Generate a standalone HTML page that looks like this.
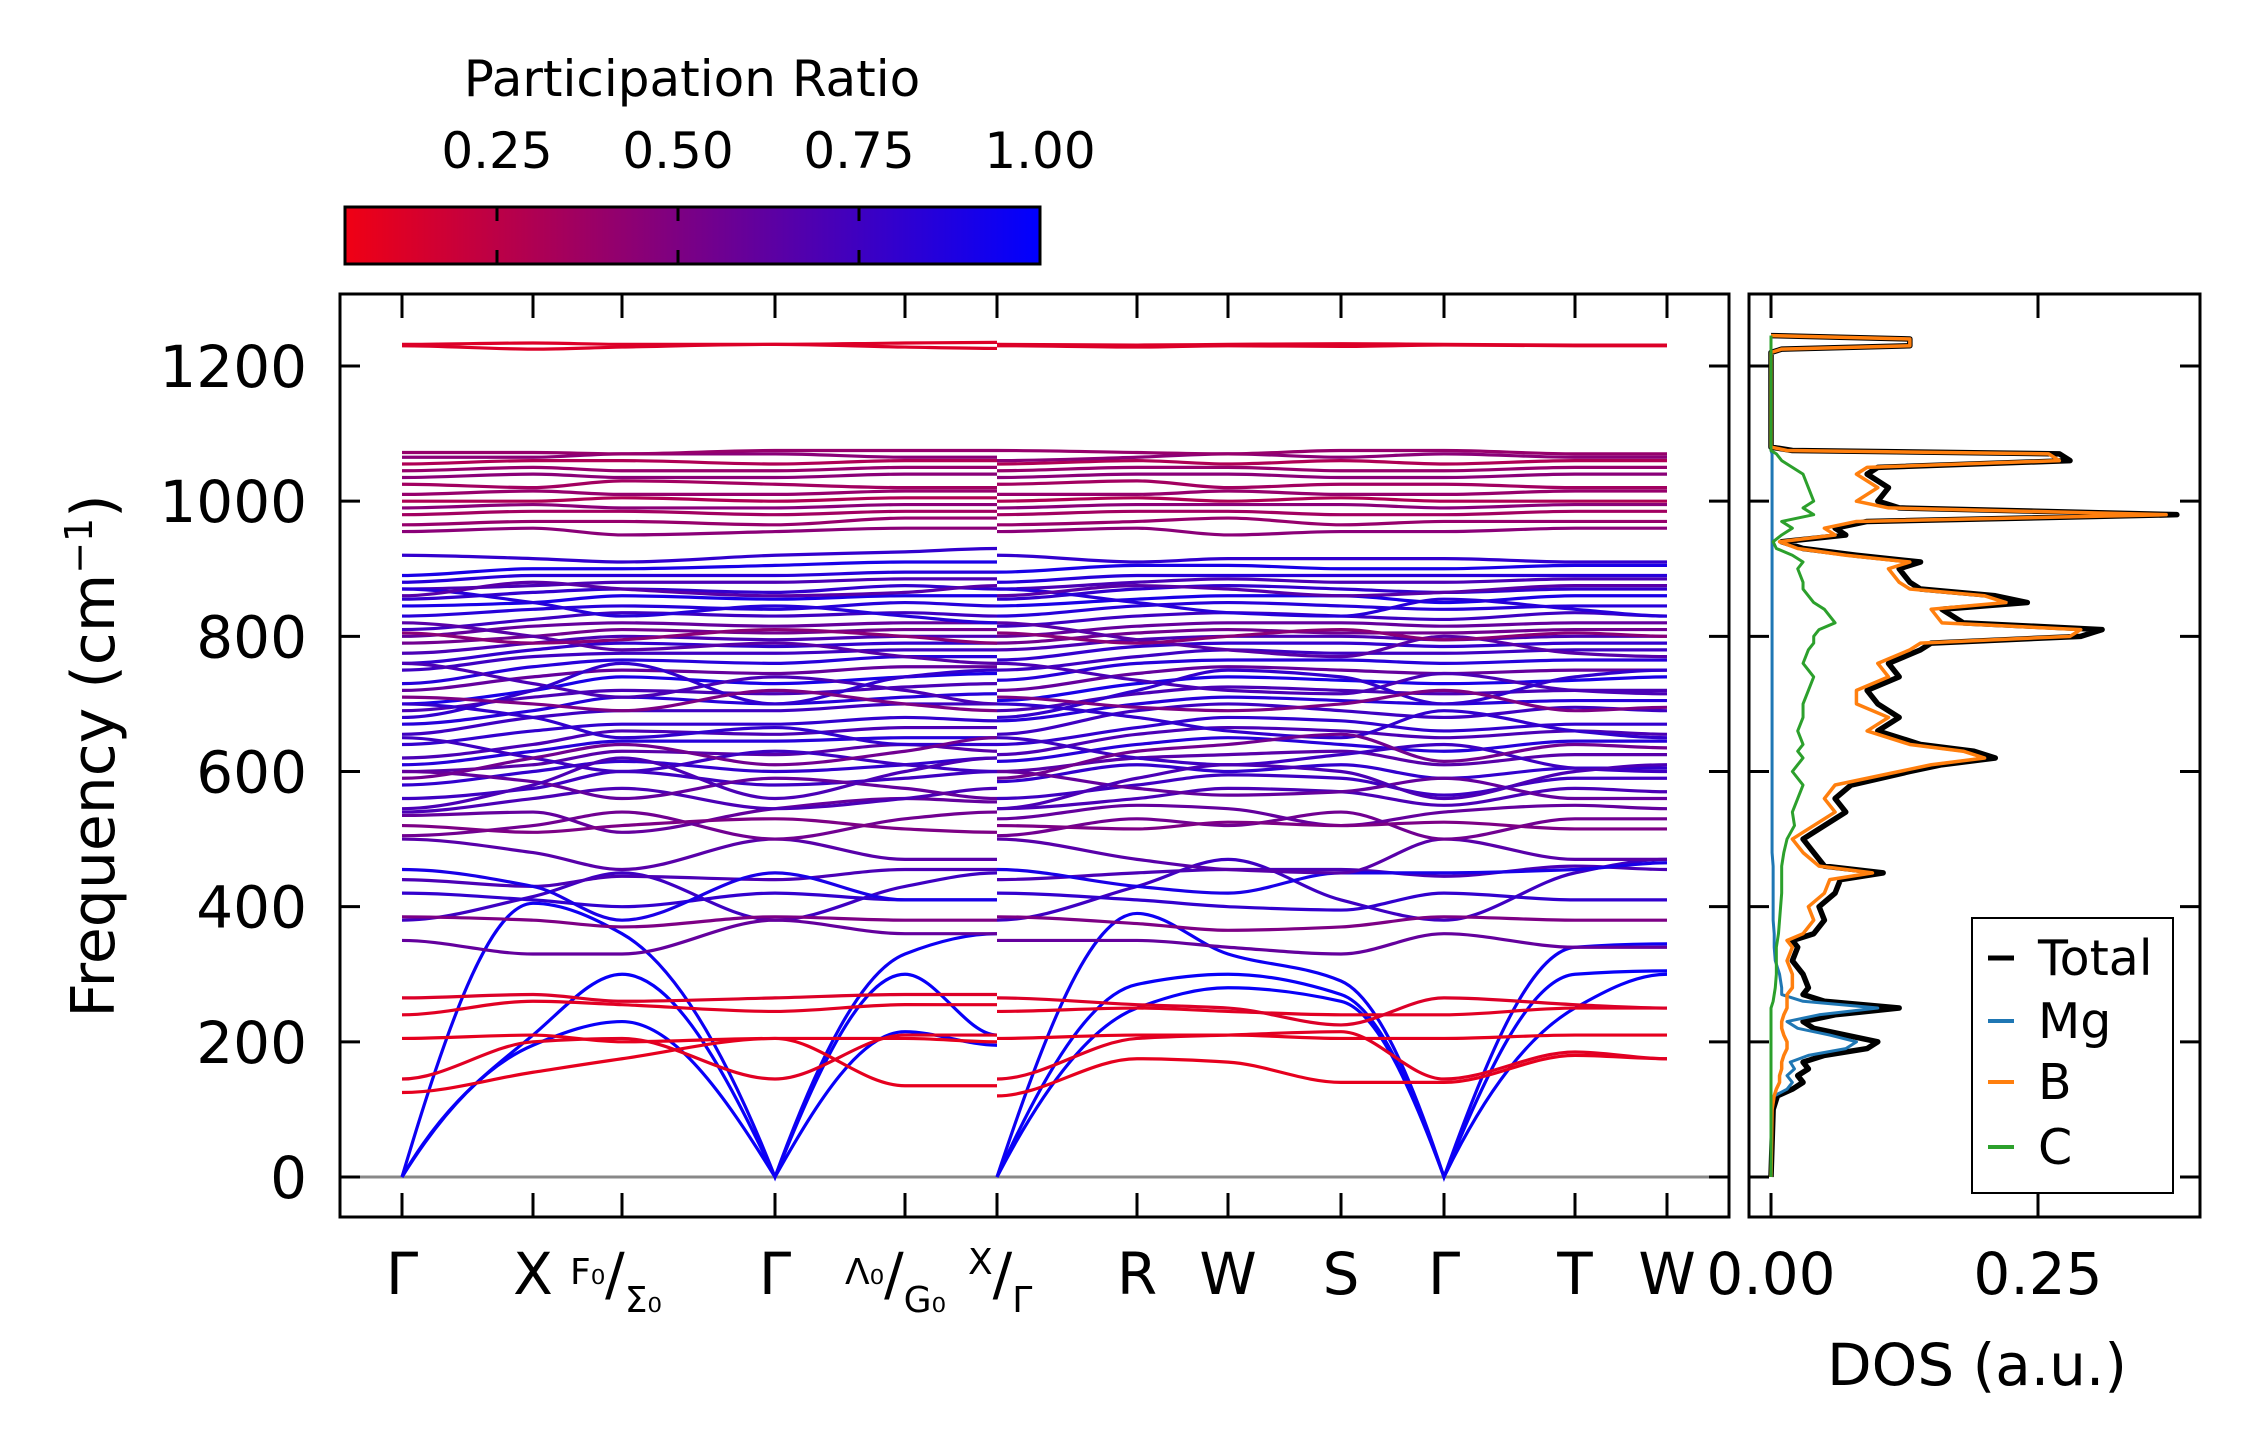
<!DOCTYPE html>
<html><head><meta charset="utf-8"><style>
body{margin:0;background:#fff}
svg{display:block;font-family:"DejaVu Sans","Liberation Sans",sans-serif}
</style></head><body>
<svg id="chart" width="2259" height="1455" viewBox="0 0 2259 1455">
<defs><linearGradient id="cmap" x1="0" x2="1" y1="0" y2="0"><stop offset="0" stop-color="#f00014"/><stop offset="0.5" stop-color="#780087"/><stop offset="1" stop-color="#0000ff"/></linearGradient></defs>
<rect x="0" y="0" width="2259" height="1455" fill="#fff"/>
<g>
<text x="692" y="96" font-size="50" text-anchor="middle">Participation Ratio</text>
<rect x="345" y="207" width="695" height="57" fill="url(#cmap)" stroke="#000" stroke-width="3"/>
</g>
<g id="cbticks"></g>
<g id="bands"></g>
<g id="dos"></g>
<g id="axes"></g>
<g font-size="58">
<text x="402" y="1294" text-anchor="middle">Γ</text>
<text x="533" y="1294" text-anchor="middle">X</text>
<text x="570" y="1284" font-size="36">F₀<tspan font-size="58" dy="10">/</tspan><tspan font-size="36" dy="18">Σ₀</tspan></text>
<text x="775" y="1294" text-anchor="middle">Γ</text>
<text x="845" y="1284" font-size="36">Λ₀<tspan font-size="58" dy="10">/</tspan><tspan font-size="36" dy="18">G₀</tspan></text>
<text x="968" y="1274" font-size="36">X<tspan font-size="58" dy="20">/</tspan><tspan font-size="36" dy="18">Γ</tspan></text>
<text x="1137" y="1294" text-anchor="middle">R</text>
<text x="1228" y="1294" text-anchor="middle">W</text>
<text x="1341" y="1294" text-anchor="middle">S</text>
<text x="1444" y="1294" text-anchor="middle">Γ</text>
<text x="1575" y="1294" text-anchor="middle">T</text>
<text x="1667" y="1294" text-anchor="middle">W</text>
</g>
<text x="1977" y="1385" font-size="58" text-anchor="middle">DOS (a.u.)</text>
<text transform="translate(114,756) rotate(-90)" font-size="60" text-anchor="middle">Frequency (cm<tspan font-size="38" dy="-22">−1</tspan><tspan dy="22">)</tspan></text>
<g>
<rect x="1972" y="918" width="201" height="275" fill="#fff" stroke="#000" stroke-width="2"/>
<line x1="1988" x2="2014" y1="958" y2="958" stroke="#000" stroke-width="5"/>
<text x="2038" y="975" font-size="49">Total</text>
<line x1="1988" x2="2014" y1="1021" y2="1021" stroke="#1f77b4" stroke-width="4"/>
<text x="2038" y="1038" font-size="49">Mg</text>
<line x1="1988" x2="2014" y1="1082" y2="1082" stroke="#ff7f0e" stroke-width="4"/>
<text x="2038" y="1099" font-size="49">B</text>
<line x1="1988" x2="2014" y1="1147" y2="1147" stroke="#2ca02c" stroke-width="4"/>
<text x="2038" y="1164" font-size="49">C</text>
</g>
</svg>
<script>
const NS="http://www.w3.org/2000/svg";
const kTicks=[402,533,622,775,905,997,997,1137,1228,1341,1444,1575,1667];
const kLabelsPos=[402,533,622,775,905,997,1137,1228,1341,1444,1575,1667];
const yTicks=[0,200,400,600,800,1000,1200];
const cbTicks=[0.25,0.50,0.75,1.00];
const dosTicks=[0.00,0.25];
const bandFreqs=[
[0,195,230,0,215,195,0,250,280,260,0,250,300],
[0,210,300,0,300,210,0,285,300,270,0,300,305],
[0,405,360,0,330,360,0,390,330,290,0,340,345],
[125,155,175,205,135,135,120,175,170,140,140,180,175],
[145,200,205,145,210,210,145,205,210,215,145,185,175],
[205,210,200,205,205,200,205,210,210,205,205,210,210],
[240,260,255,245,255,255,245,250,245,240,240,250,250],
[265,270,260,265,270,270,265,255,250,225,265,255,250],
[1232,1234,1232,1232,1234,1235,1232,1231,1232,1233,1232,1231,1231],
[1230,1225,1228,1232,1228,1226,1230,1228,1230,1229,1231,1230,1230],
[380,415,450,380,430,450,380,430,470,410,380,450,470],
[385,380,370,385,380,380,385,375,365,370,385,380,380],
[420,410,400,420,410,410,420,410,400,395,420,410,410],
[440,430,445,440,455,455,440,450,455,455,445,460,455],
[455,430,380,450,410,410,455,430,420,450,450,455,465],
[350,330,330,380,360,360,350,350,340,330,360,340,340],
[500,480,455,500,470,470,500,470,455,450,500,470,470],
[505,520,540,500,530,540,505,530,520,540,500,530,530],
[535,540,510,545,560,555,530,550,545,520,540,550,545],
[540,560,575,545,560,575,545,560,575,570,550,575,570],
[560,575,600,580,590,600,560,580,595,590,565,590,590],
[580,600,615,600,610,620,585,610,600,610,590,605,605],
[600,610,630,625,640,630,600,620,625,630,610,625,625],
[610,630,645,645,650,650,615,640,650,640,630,645,645],
[620,640,660,655,665,665,625,655,665,660,650,660,655],
[640,660,670,670,680,675,640,665,680,675,660,670,670],
[655,680,690,690,700,700,655,690,700,690,680,695,690],
[670,690,710,700,710,715,675,700,710,705,700,705,705],
[690,710,720,715,725,730,690,715,725,720,715,720,720],
[700,720,740,730,740,745,705,730,740,735,730,735,740],
[720,740,750,745,755,755,720,745,755,750,745,750,750],
[730,755,765,760,770,770,735,760,765,765,760,765,765],
[750,770,775,775,780,780,750,770,780,775,775,780,780],
[760,780,790,785,790,790,765,785,790,790,785,790,790],
[775,790,800,795,800,800,780,795,800,800,795,800,800],
[790,800,810,805,810,810,790,805,810,805,805,810,810],
[800,815,820,815,820,820,800,815,820,820,815,820,820],
[810,825,835,830,835,830,815,830,835,830,825,835,830],
[830,840,845,840,850,845,830,845,850,845,840,845,845],
[845,850,860,855,860,860,845,855,860,860,850,860,860],
[855,865,870,865,875,870,855,870,875,870,865,870,870],
[870,875,880,880,885,885,870,880,885,880,880,885,885],
[880,890,890,890,895,895,880,890,890,890,890,890,890],
[890,900,900,905,910,910,895,905,905,900,900,905,905],
[920,915,910,920,925,930,920,910,915,915,915,910,910],
[600,585,560,590,575,560,600,575,565,570,590,560,560],
[650,620,600,630,610,600,650,620,610,625,640,605,600],
[700,680,650,665,640,640,700,680,660,650,690,660,650],
[760,730,710,740,720,700,760,735,720,715,745,720,715],
[820,800,780,790,770,760,820,795,780,770,800,775,770],
[870,850,830,845,830,820,870,850,835,830,855,840,830],
[545,580,620,560,600,620,545,590,610,600,560,600,610],
[680,720,760,700,740,750,680,720,750,740,700,740,750],
[590,620,640,610,630,650,590,630,640,655,615,640,635],
[710,700,690,720,700,690,710,695,690,700,720,690,695],
[805,790,795,810,800,790,805,790,800,810,795,805,800],
[860,880,870,860,865,875,860,875,870,860,865,875,875],
[520,510,520,530,515,510,520,515,525,520,525,515,515],
[955,960,950,955,960,960,955,960,950,955,955,960,960],
[965,970,970,965,975,975,965,970,975,965,970,970,970],
[980,985,985,980,985,985,980,985,985,980,980,985,985],
[990,995,990,990,995,995,990,995,995,995,990,995,995],
[1000,1000,1005,1000,1005,1005,1000,1005,1000,1005,1000,1000,1000],
[1010,1015,1010,1010,1015,1015,1010,1010,1015,1010,1010,1015,1015],
[1025,1020,1030,1025,1020,1020,1025,1030,1020,1025,1025,1020,1020],
[1035,1040,1035,1035,1040,1040,1035,1040,1040,1035,1035,1040,1040],
[1045,1050,1045,1045,1050,1050,1045,1050,1050,1045,1045,1050,1050],
[1055,1060,1060,1055,1060,1060,1055,1060,1055,1060,1055,1060,1060],
[1065,1065,1070,1070,1065,1065,1060,1065,1070,1065,1070,1065,1065],
[1072,1072,1070,1075,1075,1075,1075,1072,1070,1075,1075,1070,1070]
];
const bandPR=[0.97,0.97,0.95,0.08,0.1,0.08,0.1,0.12,0.12,0.12,0.75,0.5,0.8,0.7,0.9,0.6,0.65,
0.55,0.6,0.7,0.75,0.8,0.65,0.85,0.7,0.8,0.75,0.85,0.7,0.9,0.6,0.85,0.75,0.8,0.7,0.55,0.6,0.75,0.85,0.9,0.8,0.7,0.85,0.9,0.8,
0.6,0.75,0.8,0.7,0.65,0.85,0.7,0.8,0.55,0.5,0.45,0.65,0.5,
0.45,0.4,0.35,0.45,0.3,0.4,0.35,0.45,0.4,0.3,0.45,0.4];
const dosFreq=[0,100,120,130,140,150,160,170,180,190,
200,210,220,230,240,250,260,270,280,300,
320,340,350,360,380,400,420,440,450,460,
480,500,520,540,560,580,600,610,620,630,
640,660,680,700,720,740,760,780,790,800,
810,820,840,850,860,870,880,900,910,920,
930,940,950,960,970,980,990,1000,1020,1040,
1050,1060,1070,1075,1080,1220,1225,1230,1240,1245];
const dosTotal=[0,0.002,0.006,0.02,0.03,0.025,0.035,0.03,0.05,0.09,
0.10,0.07,0.04,0.03,0.06,0.12,0.05,0.03,0.035,0.03,
0.02,0.025,0.02,0.04,0.05,0.045,0.06,0.065,0.105,0.05,
0.04,0.03,0.05,0.07,0.06,0.075,0.13,0.16,0.21,0.19,
0.14,0.10,0.12,0.10,0.09,0.12,0.11,0.14,0.15,0.29,
0.31,0.18,0.16,0.24,0.21,0.14,0.13,0.12,0.14,0.08,
0.03,0.01,0.07,0.06,0.09,0.38,0.12,0.10,0.11,0.09,
0.10,0.28,0.27,0.02,0,0,0.01,0.13,0.13,0];
const dosMg=[0,0.001,0.003,0.015,0.02,0.015,0.022,0.018,0.035,0.07,
0.08,0.055,0.025,0.015,0.045,0.1,0.03,0.01,0.01,0.008,
0.004,0.003,0.003,0.003,0.002,0.002,0.002,0.002,0.002,0.002,
0.001,0.001,0.001,0.001,0.001,0.001,0.001,0.001,0.001,0.001,
0.001,0.001,0.001,0.001,0.001,0.001,0.001,0.001,0.001,0.001,
0.001,0.001,0.001,0.001,0.001,0.001,0.001,0.001,0.001,0.001,
0.001,0.001,0.001,0.001,0.001,0.001,0.001,0.001,0.001,0.001,
0.001,0.001,0.001,0,0,0,0,0,0,0];
const dosB=[0,0.001,0.003,0.005,0.008,0.008,0.01,0.01,0.012,0.015,
0.015,0.012,0.01,0.01,0.012,0.015,0.015,0.015,0.02,0.02,
0.015,0.02,0.015,0.03,0.04,0.035,0.05,0.055,0.095,0.045,
0.03,0.02,0.04,0.06,0.05,0.06,0.12,0.15,0.2,0.18,
0.13,0.09,0.11,0.08,0.08,0.11,0.10,0.13,0.14,0.28,
0.29,0.16,0.15,0.22,0.2,0.13,0.12,0.11,0.13,0.07,
0.025,0.008,0.06,0.05,0.08,0.37,0.11,0.08,0.1,0.08,
0.09,0.27,0.26,0.015,0,0,0.01,0.13,0.13,0];
const dosC=[0,0,0,0,0,0,0,0,0,0,
0,0,0,0,0,0,0.002,0.003,0.004,0.005,
0.005,0.005,0.006,0.007,0.008,0.009,0.01,0.01,0.01,0.01,
0.012,0.015,0.022,0.02,0.025,0.03,0.02,0.025,0.03,0.025,
0.03,0.025,0.03,0.03,0.035,0.04,0.03,0.035,0.04,0.04,
0.045,0.06,0.05,0.04,0.035,0.03,0.03,0.025,0.03,0.02,
0.005,0.002,0.01,0.02,0.01,0.04,0.03,0.04,0.035,0.03,
0.02,0.01,0.005,0,0,0,0,0,0,0];

const AX={l:340,r:1729,t:294,b:1217}, DX={l:1749,r:2200};
const yScale=f=>1177-f*(1177-366)/1200;
const dosX=v=>1771+v*(2038-1771)/0.25;
const cbX=v=>497+(v-0.25)*(1040-497)/0.75;
function el(tag,attrs,parent){const e=document.createElementNS(NS,tag);for(const k in attrs)e.setAttribute(k,attrs[k]);parent.appendChild(e);return e;}
function prColor(p){const f=Math.max(0,Math.min(1,(p-0.04)/0.96));const r=Math.round(240*(1-f)),b=Math.round(20+235*f);return `rgb(${r},0,${b})`;}
function bandPath(pts,vals){
  const n=pts.length;const m=[];
  for(let i=0;i<n;i++){
    if(vals[i]===0){m.push(null);continue;}
    if(i===0||i===n-1){m.push(0);continue;}
    const d0=(pts[i][1]-pts[i-1][1])/(pts[i][0]-pts[i-1][0]),d1=(pts[i+1][1]-pts[i][1])/(pts[i+1][0]-pts[i][0]);
    m.push(d0*d1<=0?0:2/(1/d0+1/d1));
  }
  let d=`M${pts[0][0]},${pts[0][1]}`;
  for(let i=0;i<n-1;i++){
    const a=pts[i],b=pts[i+1],h=b[0]-a[0],s=(b[1]-a[1])/h;
    const ma=m[i]===null?s*1.6:m[i], mb=m[i+1]===null?s*1.6:m[i+1];
    d+=`C${a[0]+h/3},${a[1]+ma*h/3} ${b[0]-h/3},${b[1]-mb*h/3} ${b[0]},${b[1]}`;
  }
  return d;
}
const bandsG=document.getElementById('bands');
const zl=el('line',{x1:AX.l,x2:AX.r,y1:yScale(0),y2:yScale(0),stroke:'#888','stroke-width':3},bandsG);


bandFreqs.forEach((b,i)=>{
  [[0,6],[6,13]].forEach(([s,e])=>{
    const pts=[],vals=[];
    for(let j=s;j<e;j++){pts.push([kTicks[j],yScale(b[j])]);vals.push(b[j]);}
    const p=el('path',{d:bandPath(pts,vals),fill:'none',stroke:prColor(bandPR[i]),'stroke-width':3.2},bandsG);
    
    
  });
});
const dosG=document.getElementById('dos');
[[dosTotal,'#000',5.5,'dos-total'],[dosMg,'#1f77b4',3,'dos-mg'],[dosB,'#ff7f0e',3.5,'dos-b'],[dosC,'#2ca02c',3,'dos-c']].forEach(([arr,c,w,n])=>{
  const d=arr.map((v,i)=>(i?'L':'M')+dosX(v)+','+yScale(dosFreq[i])).join('');
  const p=el('path',{d:d,fill:'none',stroke:c,'stroke-width':w,'stroke-linejoin':'round'},dosG);
  
  
});
const axG=document.getElementById('axes');
const f1=el('rect',{x:AX.l,y:AX.t,width:AX.r-AX.l,height:AX.b-AX.t,fill:'none',stroke:'#000','stroke-width':3},axG);


const f2=el('rect',{x:DX.l,y:AX.t,width:DX.r-DX.l,height:AX.b-AX.t,fill:'none',stroke:'#000','stroke-width':3},axG);


kLabelsPos.forEach(x=>{
  const t1=el('line',{x1:x,x2:x,y1:AX.t,y2:AX.t+24,stroke:'#000','stroke-width':3},axG);
  
  
  const t2=el('line',{x1:x,x2:x,y1:AX.b,y2:AX.b-24,stroke:'#000','stroke-width':3},axG);
  
  
});
yTicks.forEach(v=>{
  const y=yScale(v);
  [[AX.l,AX.l+20],[AX.r,AX.r-20],[DX.l,DX.l+20],[DX.r,DX.r-20]].forEach(([a,b])=>{
    const t=el('line',{x1:a,x2:b,y1:y,y2:y,stroke:'#000','stroke-width':3},axG);
    
    
  });
  const l=el('text',{x:307,y:y+21,'font-size':58,'text-anchor':'end'},axG);
  l.textContent=String(v);
  
  
});
dosTicks.forEach(v=>{
  const x=dosX(v);
  [[AX.t,AX.t+24],[AX.b,AX.b-24]].forEach(([a,b])=>{
    const t=el('line',{x1:x,x2:x,y1:a,y2:b,stroke:'#000','stroke-width':3},axG);
    
    
  });
  const l=el('text',{x:x,y:1294,'font-size':58,'text-anchor':'middle'},axG);
  l.textContent=v.toFixed(2);
  
  
});
const cbG=document.getElementById('cbticks');
cbTicks.forEach(v=>{
  const x=cbX(v);
  if(v<1){
    const t=el('line',{x1:x,x2:x,y1:207,y2:264,stroke:'#000','stroke-width':3,'stroke-dasharray':'14 29'},cbG);
    
    
  }
  const l=el('text',{x:x,y:168,'font-size':50,'text-anchor':'middle'},cbG);
  l.textContent=v.toFixed(2);
  
  
});
</script>
</body></html>
